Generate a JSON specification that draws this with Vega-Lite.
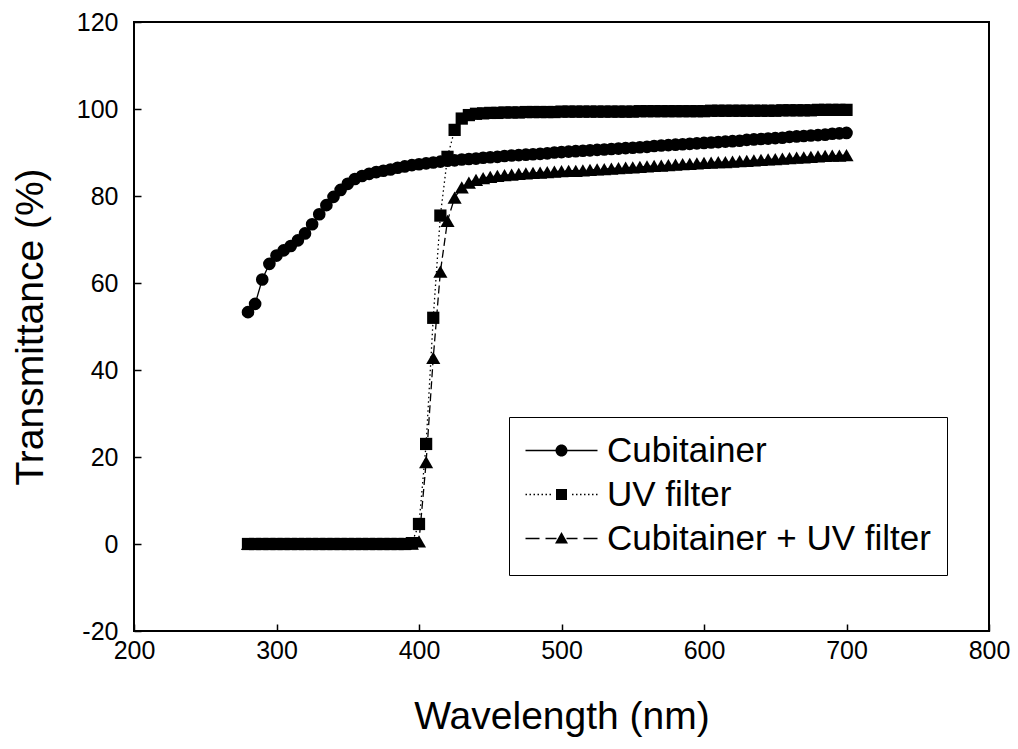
{
  "$schema": "https://vega.github.io/schema/vega-lite/v6.json",
  "width": 855,
  "height": 609,
  "autosize": {"type": "none"},
  "padding": {"left": 134, "top": 22, "right": 29, "bottom": 118},
  "background": "white",
  "config": {
    "view": {"stroke": "black", "strokeWidth": 2},
    "font": "Liberation Sans",
    "axis": {
      "domain": false,
      "grid": false,
      "ticks": true,
      "tickSize": -7,
      "tickColor": "black",
      "tickWidth": 1.5,
      "labelColor": "black",
      "labelFont": "Liberation Sans",
      "labelFontSize": 25,
      "labelFlush": false,
      "labelOverlap": false,
      "titleColor": "black",
      "titleFont": "Liberation Sans",
      "titleFontSize": 39,
      "titleFontWeight": "normal"
    }
  },
  "datasets": {
    "spectra": [
      {"series": "UV filter", "wl": 280, "T": 0}, {"series": "UV filter", "wl": 285, "T": 0}, {"series": "UV filter", "wl": 290, "T": 0}, {"series": "UV filter", "wl": 295, "T": 0},
      {"series": "UV filter", "wl": 300, "T": 0}, {"series": "UV filter", "wl": 305, "T": 0}, {"series": "UV filter", "wl": 310, "T": 0}, {"series": "UV filter", "wl": 315, "T": 0},
      {"series": "UV filter", "wl": 320, "T": 0}, {"series": "UV filter", "wl": 325, "T": 0}, {"series": "UV filter", "wl": 330, "T": 0}, {"series": "UV filter", "wl": 335, "T": 0},
      {"series": "UV filter", "wl": 340, "T": 0}, {"series": "UV filter", "wl": 345, "T": 0}, {"series": "UV filter", "wl": 350, "T": 0}, {"series": "UV filter", "wl": 355, "T": 0},
      {"series": "UV filter", "wl": 360, "T": 0}, {"series": "UV filter", "wl": 365, "T": 0}, {"series": "UV filter", "wl": 370, "T": 0}, {"series": "UV filter", "wl": 375, "T": 0},
      {"series": "UV filter", "wl": 380, "T": 0}, {"series": "UV filter", "wl": 385, "T": 0}, {"series": "UV filter", "wl": 390, "T": 0}, {"series": "UV filter", "wl": 395, "T": 0.2},
      {"series": "UV filter", "wl": 400, "T": 4.6}, {"series": "UV filter", "wl": 405, "T": 23.0}, {"series": "UV filter", "wl": 410, "T": 52.0}, {"series": "UV filter", "wl": 415, "T": 75.5},
      {"series": "UV filter", "wl": 420, "T": 89.0}, {"series": "UV filter", "wl": 425, "T": 95.2}, {"series": "UV filter", "wl": 430, "T": 97.8}, {"series": "UV filter", "wl": 435, "T": 98.6},
      {"series": "UV filter", "wl": 440, "T": 98.9}, {"series": "UV filter", "wl": 445, "T": 99.0}, {"series": "UV filter", "wl": 450, "T": 99.1}, {"series": "UV filter", "wl": 455, "T": 99.1},
      {"series": "UV filter", "wl": 460, "T": 99.2}, {"series": "UV filter", "wl": 465, "T": 99.2}, {"series": "UV filter", "wl": 470, "T": 99.2}, {"series": "UV filter", "wl": 475, "T": 99.3},
      {"series": "UV filter", "wl": 480, "T": 99.3}, {"series": "UV filter", "wl": 485, "T": 99.3}, {"series": "UV filter", "wl": 490, "T": 99.3}, {"series": "UV filter", "wl": 495, "T": 99.3},
      {"series": "UV filter", "wl": 500, "T": 99.4}, {"series": "UV filter", "wl": 505, "T": 99.4}, {"series": "UV filter", "wl": 510, "T": 99.4}, {"series": "UV filter", "wl": 515, "T": 99.4},
      {"series": "UV filter", "wl": 520, "T": 99.4}, {"series": "UV filter", "wl": 525, "T": 99.4}, {"series": "UV filter", "wl": 530, "T": 99.4}, {"series": "UV filter", "wl": 535, "T": 99.4},
      {"series": "UV filter", "wl": 540, "T": 99.4}, {"series": "UV filter", "wl": 545, "T": 99.4}, {"series": "UV filter", "wl": 550, "T": 99.4}, {"series": "UV filter", "wl": 555, "T": 99.5},
      {"series": "UV filter", "wl": 560, "T": 99.5}, {"series": "UV filter", "wl": 565, "T": 99.5}, {"series": "UV filter", "wl": 570, "T": 99.5}, {"series": "UV filter", "wl": 575, "T": 99.5},
      {"series": "UV filter", "wl": 580, "T": 99.5}, {"series": "UV filter", "wl": 585, "T": 99.5}, {"series": "UV filter", "wl": 590, "T": 99.5}, {"series": "UV filter", "wl": 595, "T": 99.5},
      {"series": "UV filter", "wl": 600, "T": 99.5}, {"series": "UV filter", "wl": 605, "T": 99.6}, {"series": "UV filter", "wl": 610, "T": 99.6}, {"series": "UV filter", "wl": 615, "T": 99.6},
      {"series": "UV filter", "wl": 620, "T": 99.6}, {"series": "UV filter", "wl": 625, "T": 99.6}, {"series": "UV filter", "wl": 630, "T": 99.6}, {"series": "UV filter", "wl": 635, "T": 99.6},
      {"series": "UV filter", "wl": 640, "T": 99.6}, {"series": "UV filter", "wl": 645, "T": 99.6}, {"series": "UV filter", "wl": 650, "T": 99.6}, {"series": "UV filter", "wl": 655, "T": 99.7},
      {"series": "UV filter", "wl": 660, "T": 99.7}, {"series": "UV filter", "wl": 665, "T": 99.7}, {"series": "UV filter", "wl": 670, "T": 99.7}, {"series": "UV filter", "wl": 675, "T": 99.7},
      {"series": "UV filter", "wl": 680, "T": 99.8}, {"series": "UV filter", "wl": 685, "T": 99.8}, {"series": "UV filter", "wl": 690, "T": 99.8}, {"series": "UV filter", "wl": 695, "T": 99.8},
      {"series": "UV filter", "wl": 700, "T": 99.8},

      {"series": "Cubitainer + UV filter", "wl": 280, "T": 0}, {"series": "Cubitainer + UV filter", "wl": 285, "T": 0}, {"series": "Cubitainer + UV filter", "wl": 290, "T": 0}, {"series": "Cubitainer + UV filter", "wl": 295, "T": 0},
      {"series": "Cubitainer + UV filter", "wl": 300, "T": 0}, {"series": "Cubitainer + UV filter", "wl": 305, "T": 0}, {"series": "Cubitainer + UV filter", "wl": 310, "T": 0}, {"series": "Cubitainer + UV filter", "wl": 315, "T": 0},
      {"series": "Cubitainer + UV filter", "wl": 320, "T": 0}, {"series": "Cubitainer + UV filter", "wl": 325, "T": 0}, {"series": "Cubitainer + UV filter", "wl": 330, "T": 0}, {"series": "Cubitainer + UV filter", "wl": 335, "T": 0},
      {"series": "Cubitainer + UV filter", "wl": 340, "T": 0}, {"series": "Cubitainer + UV filter", "wl": 345, "T": 0}, {"series": "Cubitainer + UV filter", "wl": 350, "T": 0}, {"series": "Cubitainer + UV filter", "wl": 355, "T": 0},
      {"series": "Cubitainer + UV filter", "wl": 360, "T": 0}, {"series": "Cubitainer + UV filter", "wl": 365, "T": 0}, {"series": "Cubitainer + UV filter", "wl": 370, "T": 0}, {"series": "Cubitainer + UV filter", "wl": 375, "T": 0},
      {"series": "Cubitainer + UV filter", "wl": 380, "T": 0}, {"series": "Cubitainer + UV filter", "wl": 385, "T": 0}, {"series": "Cubitainer + UV filter", "wl": 390, "T": 0}, {"series": "Cubitainer + UV filter", "wl": 395, "T": 0.1},
      {"series": "Cubitainer + UV filter", "wl": 400, "T": 0.6}, {"series": "Cubitainer + UV filter", "wl": 405, "T": 18.8}, {"series": "Cubitainer + UV filter", "wl": 410, "T": 42.8}, {"series": "Cubitainer + UV filter", "wl": 415, "T": 62.6},
      {"series": "Cubitainer + UV filter", "wl": 420, "T": 74.3}, {"series": "Cubitainer + UV filter", "wl": 425, "T": 79.6}, {"series": "Cubitainer + UV filter", "wl": 430, "T": 82.0}, {"series": "Cubitainer + UV filter", "wl": 435, "T": 83.1},
      {"series": "Cubitainer + UV filter", "wl": 440, "T": 83.7}, {"series": "Cubitainer + UV filter", "wl": 445, "T": 84.1}, {"series": "Cubitainer + UV filter", "wl": 450, "T": 84.4}, {"series": "Cubitainer + UV filter", "wl": 455, "T": 84.6},
      {"series": "Cubitainer + UV filter", "wl": 460, "T": 84.8}, {"series": "Cubitainer + UV filter", "wl": 465, "T": 84.9}, {"series": "Cubitainer + UV filter", "wl": 470, "T": 85.1}, {"series": "Cubitainer + UV filter", "wl": 475, "T": 85.2},
      {"series": "Cubitainer + UV filter", "wl": 480, "T": 85.3}, {"series": "Cubitainer + UV filter", "wl": 485, "T": 85.4}, {"series": "Cubitainer + UV filter", "wl": 490, "T": 85.5}, {"series": "Cubitainer + UV filter", "wl": 495, "T": 85.6},
      {"series": "Cubitainer + UV filter", "wl": 500, "T": 85.7}, {"series": "Cubitainer + UV filter", "wl": 505, "T": 85.8}, {"series": "Cubitainer + UV filter", "wl": 510, "T": 85.8}, {"series": "Cubitainer + UV filter", "wl": 515, "T": 85.9},
      {"series": "Cubitainer + UV filter", "wl": 520, "T": 86.0}, {"series": "Cubitainer + UV filter", "wl": 525, "T": 86.1}, {"series": "Cubitainer + UV filter", "wl": 530, "T": 86.2}, {"series": "Cubitainer + UV filter", "wl": 535, "T": 86.3},
      {"series": "Cubitainer + UV filter", "wl": 540, "T": 86.4}, {"series": "Cubitainer + UV filter", "wl": 545, "T": 86.5}, {"series": "Cubitainer + UV filter", "wl": 550, "T": 86.6}, {"series": "Cubitainer + UV filter", "wl": 555, "T": 86.7},
      {"series": "Cubitainer + UV filter", "wl": 560, "T": 86.8}, {"series": "Cubitainer + UV filter", "wl": 565, "T": 86.9}, {"series": "Cubitainer + UV filter", "wl": 570, "T": 87.0}, {"series": "Cubitainer + UV filter", "wl": 575, "T": 87.1},
      {"series": "Cubitainer + UV filter", "wl": 580, "T": 87.2}, {"series": "Cubitainer + UV filter", "wl": 585, "T": 87.3}, {"series": "Cubitainer + UV filter", "wl": 590, "T": 87.4}, {"series": "Cubitainer + UV filter", "wl": 595, "T": 87.5},
      {"series": "Cubitainer + UV filter", "wl": 600, "T": 87.6}, {"series": "Cubitainer + UV filter", "wl": 605, "T": 87.7}, {"series": "Cubitainer + UV filter", "wl": 610, "T": 87.8}, {"series": "Cubitainer + UV filter", "wl": 615, "T": 87.8},
      {"series": "Cubitainer + UV filter", "wl": 620, "T": 87.9}, {"series": "Cubitainer + UV filter", "wl": 625, "T": 88.0}, {"series": "Cubitainer + UV filter", "wl": 630, "T": 88.1}, {"series": "Cubitainer + UV filter", "wl": 635, "T": 88.2},
      {"series": "Cubitainer + UV filter", "wl": 640, "T": 88.3}, {"series": "Cubitainer + UV filter", "wl": 645, "T": 88.4}, {"series": "Cubitainer + UV filter", "wl": 650, "T": 88.5}, {"series": "Cubitainer + UV filter", "wl": 655, "T": 88.6},
      {"series": "Cubitainer + UV filter", "wl": 660, "T": 88.7}, {"series": "Cubitainer + UV filter", "wl": 665, "T": 88.8}, {"series": "Cubitainer + UV filter", "wl": 670, "T": 88.9}, {"series": "Cubitainer + UV filter", "wl": 675, "T": 89.0},
      {"series": "Cubitainer + UV filter", "wl": 680, "T": 89.1}, {"series": "Cubitainer + UV filter", "wl": 685, "T": 89.2}, {"series": "Cubitainer + UV filter", "wl": 690, "T": 89.3}, {"series": "Cubitainer + UV filter", "wl": 695, "T": 89.3},
      {"series": "Cubitainer + UV filter", "wl": 700, "T": 89.4},

      {"series": "Cubitainer", "wl": 280, "T": 53.3}, {"series": "Cubitainer", "wl": 285, "T": 55.2}, {"series": "Cubitainer", "wl": 290, "T": 60.8}, {"series": "Cubitainer", "wl": 295, "T": 64.4},
      {"series": "Cubitainer", "wl": 300, "T": 66.3}, {"series": "Cubitainer", "wl": 305, "T": 67.5}, {"series": "Cubitainer", "wl": 310, "T": 68.5}, {"series": "Cubitainer", "wl": 315, "T": 69.8},
      {"series": "Cubitainer", "wl": 320, "T": 71.4}, {"series": "Cubitainer", "wl": 325, "T": 73.5}, {"series": "Cubitainer", "wl": 330, "T": 75.8}, {"series": "Cubitainer", "wl": 335, "T": 77.9},
      {"series": "Cubitainer", "wl": 340, "T": 79.8}, {"series": "Cubitainer", "wl": 345, "T": 81.4}, {"series": "Cubitainer", "wl": 350, "T": 82.8}, {"series": "Cubitainer", "wl": 355, "T": 83.9},
      {"series": "Cubitainer", "wl": 360, "T": 84.6}, {"series": "Cubitainer", "wl": 365, "T": 85.1}, {"series": "Cubitainer", "wl": 370, "T": 85.5}, {"series": "Cubitainer", "wl": 375, "T": 85.8},
      {"series": "Cubitainer", "wl": 380, "T": 86.1}, {"series": "Cubitainer", "wl": 385, "T": 86.5}, {"series": "Cubitainer", "wl": 390, "T": 86.8}, {"series": "Cubitainer", "wl": 395, "T": 87.1},
      {"series": "Cubitainer", "wl": 400, "T": 87.3}, {"series": "Cubitainer", "wl": 405, "T": 87.5}, {"series": "Cubitainer", "wl": 410, "T": 87.7}, {"series": "Cubitainer", "wl": 415, "T": 87.9},
      {"series": "Cubitainer", "wl": 420, "T": 88.1}, {"series": "Cubitainer", "wl": 425, "T": 88.2}, {"series": "Cubitainer", "wl": 430, "T": 88.4}, {"series": "Cubitainer", "wl": 435, "T": 88.5},
      {"series": "Cubitainer", "wl": 440, "T": 88.6}, {"series": "Cubitainer", "wl": 445, "T": 88.8}, {"series": "Cubitainer", "wl": 450, "T": 88.9}, {"series": "Cubitainer", "wl": 455, "T": 89.0},
      {"series": "Cubitainer", "wl": 460, "T": 89.2}, {"series": "Cubitainer", "wl": 465, "T": 89.3}, {"series": "Cubitainer", "wl": 470, "T": 89.4}, {"series": "Cubitainer", "wl": 475, "T": 89.5},
      {"series": "Cubitainer", "wl": 480, "T": 89.6}, {"series": "Cubitainer", "wl": 485, "T": 89.7}, {"series": "Cubitainer", "wl": 490, "T": 89.8}, {"series": "Cubitainer", "wl": 495, "T": 90.0},
      {"series": "Cubitainer", "wl": 500, "T": 90.1}, {"series": "Cubitainer", "wl": 505, "T": 90.2}, {"series": "Cubitainer", "wl": 510, "T": 90.3}, {"series": "Cubitainer", "wl": 515, "T": 90.4},
      {"series": "Cubitainer", "wl": 520, "T": 90.5}, {"series": "Cubitainer", "wl": 525, "T": 90.6}, {"series": "Cubitainer", "wl": 530, "T": 90.7}, {"series": "Cubitainer", "wl": 535, "T": 90.8},
      {"series": "Cubitainer", "wl": 540, "T": 90.9}, {"series": "Cubitainer", "wl": 545, "T": 91.0}, {"series": "Cubitainer", "wl": 550, "T": 91.1}, {"series": "Cubitainer", "wl": 555, "T": 91.2},
      {"series": "Cubitainer", "wl": 560, "T": 91.3}, {"series": "Cubitainer", "wl": 565, "T": 91.5}, {"series": "Cubitainer", "wl": 570, "T": 91.6}, {"series": "Cubitainer", "wl": 575, "T": 91.7},
      {"series": "Cubitainer", "wl": 580, "T": 91.8}, {"series": "Cubitainer", "wl": 585, "T": 91.9}, {"series": "Cubitainer", "wl": 590, "T": 92.0}, {"series": "Cubitainer", "wl": 595, "T": 92.1},
      {"series": "Cubitainer", "wl": 600, "T": 92.2}, {"series": "Cubitainer", "wl": 605, "T": 92.3}, {"series": "Cubitainer", "wl": 610, "T": 92.4}, {"series": "Cubitainer", "wl": 615, "T": 92.5},
      {"series": "Cubitainer", "wl": 620, "T": 92.6}, {"series": "Cubitainer", "wl": 625, "T": 92.7}, {"series": "Cubitainer", "wl": 630, "T": 92.9}, {"series": "Cubitainer", "wl": 635, "T": 93.0},
      {"series": "Cubitainer", "wl": 640, "T": 93.1}, {"series": "Cubitainer", "wl": 645, "T": 93.2}, {"series": "Cubitainer", "wl": 650, "T": 93.3}, {"series": "Cubitainer", "wl": 655, "T": 93.4},
      {"series": "Cubitainer", "wl": 660, "T": 93.6}, {"series": "Cubitainer", "wl": 665, "T": 93.7}, {"series": "Cubitainer", "wl": 670, "T": 93.8}, {"series": "Cubitainer", "wl": 675, "T": 93.9},
      {"series": "Cubitainer", "wl": 680, "T": 94.0}, {"series": "Cubitainer", "wl": 685, "T": 94.1}, {"series": "Cubitainer", "wl": 690, "T": 94.3}, {"series": "Cubitainer", "wl": 695, "T": 94.4},
      {"series": "Cubitainer", "wl": 700, "T": 94.5}
    ]
  },
  "data": {"name": "spectra"},
  "encoding": {
    "x": {
      "field": "wl",
      "type": "quantitative",
      "scale": {"domain": [200, 800], "nice": false, "zero": false},
      "axis": {
        "title": "Wavelength (nm)",
        "values": [200, 300, 400, 500, 600, 700, 800],
        "labelPadding": 14,
        "titlePadding": 34
      }
    },
    "y": {
      "field": "T",
      "type": "quantitative",
      "scale": {"domain": [-20, 120], "nice": false, "zero": false},
      "axis": {
        "title": "Transmittance (%)",
        "values": [-20, 0, 20, 40, 60, 80, 100, 120],
        "labelExpr": "'' + datum.value",
        "labelPadding": 23,
        "titlePadding": 26
      }
    }
  },
  "layer": [
    {
      "transform": [{"filter": "datum.series === 'UV filter'"}],
      "mark": {"type": "line", "color": "black", "strokeWidth": 1.3, "strokeDash": [1.5, 3]},
      "encoding": {}
    },
    {
      "transform": [{"filter": "datum.series === 'UV filter'"}],
      "mark": {"type": "point", "shape": "square", "filled": true, "color": "black", "opacity": 1, "size": 150},
      "encoding": {}
    },
    {
      "transform": [{"filter": "datum.series === 'Cubitainer + UV filter'"}],
      "mark": {"type": "line", "color": "black", "strokeWidth": 1.3, "strokeDash": [8, 4]},
      "encoding": {}
    },
    {
      "transform": [{"filter": "datum.series === 'Cubitainer + UV filter'"}],
      "mark": {"type": "point", "shape": "triangle-up", "filled": true, "color": "black", "opacity": 1, "size": 200},
      "encoding": {}
    },
    {
      "transform": [{"filter": "datum.series === 'Cubitainer'"}],
      "mark": {"type": "line", "color": "black", "strokeWidth": 1.3},
      "encoding": {}
    },
    {
      "transform": [{"filter": "datum.series === 'Cubitainer'"}],
      "mark": {"type": "point", "shape": "circle", "filled": true, "color": "black", "opacity": 1, "size": 160},
      "encoding": {}
    },
    {
      "mark": {"type": "point", "filled": true, "color": "black", "opacity": 0},
      "encoding": {
        "shape": {
          "field": "series",
          "type": "nominal",
          "scale": {
            "domain": ["Cubitainer", "UV filter", "Cubitainer + UV filter"],
            "range": [
              "M-7.2,-0.15L-1.15,-0.15L-1.15,0.15L-7.2,0.15ZM1.15,-0.15L7.2,-0.15L7.2,0.15L1.15,0.15ZM-1.2,0A1.2,1.2,0,1,1,1.2,0A1.2,1.2,0,1,1,-1.2,0ZM0,-4M0,4",
              "M-7.2,-0.15L-6.9,-0.15L-6.9,0.15L-7.2,0.15ZM-6.4,-0.15L-6.1,-0.15L-6.1,0.15L-6.4,0.15ZM-5.6,-0.15L-5.3,-0.15L-5.3,0.15L-5.6,0.15ZM-4.8,-0.15L-4.5,-0.15L-4.5,0.15L-4.8,0.15ZM-4,-0.15L-3.7,-0.15L-3.7,0.15L-4,0.15ZM-3.2,-0.15L-2.9,-0.15L-2.9,0.15L-3.2,0.15ZM-2.4,-0.15L-2.1,-0.15L-2.1,0.15L-2.4,0.15ZM2.1,-0.15L2.4,-0.15L2.4,0.15L2.1,0.15ZM2.9,-0.15L3.2,-0.15L3.2,0.15L2.9,0.15ZM3.7,-0.15L4,-0.15L4,0.15L3.7,0.15ZM4.5,-0.15L4.8,-0.15L4.8,0.15L4.5,0.15ZM5.3,-0.15L5.6,-0.15L5.6,0.15L5.3,0.15ZM6.1,-0.15L6.4,-0.15L6.4,0.15L6.1,0.15ZM6.9,-0.15L7.2,-0.15L7.2,0.15L6.9,0.15ZM-1.1,-1.1L1.1,-1.1L1.1,1.1L-1.1,1.1ZM0,-4M0,4",
              "M-7.2,-0.15L-4.4,-0.15L-4.4,0.15L-7.2,0.15ZM-3.2,-0.15L-1,-0.15L-1,0.15L-3.2,0.15ZM1,-0.15L3.2,-0.15L3.2,0.15L1,0.15ZM4.4,-0.15L7.2,-0.15L7.2,0.15L4.4,0.15ZM0,-1.3L1.3,1L-1.3,1ZM0,-4M0,4"
            ]
          },
          "legend": {
            "title": null,
            "orient": "none",
            "legendX": 375,
            "legendY": 395,
            "padding": 16,
            "strokeColor": "black",
            "labelFont": "Liberation Sans",
            "labelFontSize": 35,
            "labelColor": "black",
            "labelLimit": 600,
            "symbolSize": 100,
            "symbolOffset": 19,
            "labelOffset": 28,
            "rowPadding": 3,
            "symbolOpacity": 1,
            "symbolStrokeWidth": 0,
            "symbolFillColor": "black",
            "encode": {
              "symbols": {
                "fill": {"value": "black"},
                "strokeWidth": {"value": 0},
                "opacity": {"value": 1}
              }
            }
          }
        }
      }
    }
  ]
}
